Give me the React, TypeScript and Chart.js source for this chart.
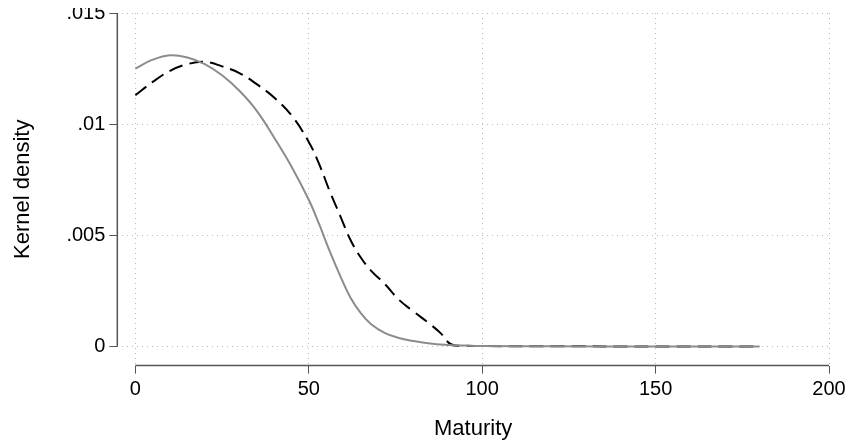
import React, { useEffect, useRef } from "react";
import Chart from "chart.js/auto";

const xTicks = [0, 50, 100, 150, 200];
const yTicks = [0, 0.005, 0.01, 0.015];
const yTickLabels = ["0", ".005", ".01", ".015"];
const solidX = [0, 5, 10, 15, 20, 25, 30, 35, 40, 45, 50, 53, 56, 59, 62, 65, 68, 72, 76, 80, 85, 90, 95, 100, 120, 150, 180];
const solidY = [0.0125, 0.0129, 0.0131, 0.013, 0.0127, 0.0122, 0.0115, 0.0106, 0.0094, 0.0081, 0.0066, 0.0055, 0.0043, 0.0032, 0.0022, 0.0015, 0.001, 0.0006, 0.00038, 0.00025, 0.00013, 0.00007, 0.00004, 0.00002, 0.00001, 0, 0];
const dashX = [0, 5, 10, 15, 20, 25, 30, 35, 40, 45, 50, 53, 56, 59, 62, 65, 68, 72, 76, 80, 85, 88, 91, 95, 100, 120, 150, 180];
const dashY = [0.0113, 0.0119, 0.0124, 0.0127, 0.0128, 0.0126, 0.0123, 0.0118, 0.0112, 0.0104, 0.0092, 0.0082, 0.007, 0.0059, 0.0048, 0.004, 0.0034, 0.0028, 0.0021, 0.0016, 0.001, 0.0006, 0.0001, 0.00004, 0.00002, 0.00001, 0, 0];

const axisLines = {
  id: "axisLines",
  afterDraw(chart: any) {
    const { ctx, scales } = chart;
    const x = scales.x, y = scales.y;
    ctx.save();
    ctx.strokeStyle = "#555";
    ctx.lineWidth = 1.5;
    ctx.beginPath();
    ctx.moveTo(x.left, y.getPixelForValue(0.015));
    ctx.lineTo(x.left, y.getPixelForValue(0));
    ctx.moveTo(x.getPixelForValue(0), y.bottom);
    ctx.lineTo(x.getPixelForValue(200), y.bottom);
    ctx.stroke();
    ctx.restore();
  },
};

export default function App() {
  const ref = useRef<HTMLCanvasElement>(null);
  useEffect(() => {
    const font = { family: "Liberation Sans", size: 20 };
    const tfont = { family: "Liberation Sans", size: 22 };
    const chart = new Chart(ref.current!, {
      type: "line",
      data: {
        datasets: [
          { data: solidX.map((x, i) => ({ x, y: solidY[i] })), borderColor: "#8c8c8c", borderWidth: 2, pointRadius: 0, tension: 0.4 },
          { data: dashX.map((x, i) => ({ x, y: dashY[i] })), borderColor: "#000", borderWidth: 2, borderDash: [14, 7], pointRadius: 0, tension: 0.4 },
        ],
      },
      options: {
        animation: false,
        responsive: false,
        layout: { padding: { top: 0, right: 26, left: 2, bottom: 1 } },
        plugins: { legend: { display: false }, tooltip: { enabled: false } },
        scales: {
          x: {
            type: "linear", min: -5.2, max: 200,
            afterBuildTicks: (s: any) => { s.ticks = xTicks.map((v) => ({ value: v })); },
            ticks: { font, color: "#000", padding: 4 },
            grid: { color: "#bbb", lineWidth: 1, tickLength: 8, tickColor: "#555" } as any,
            border: { display: false, dash: [1, 4] },
            title: { display: true, text: "Maturity", font: tfont, color: "#000", padding: { top: 10, bottom: 0 } },
          },
          y: {
            min: -0.00086, max: 0.015,
            afterBuildTicks: (s: any) => { s.ticks = yTicks.map((v) => ({ value: v })); },
            ticks: { font, color: "#000", padding: 4, callback: (v: any) => yTickLabels[yTicks.indexOf(Number(v))] ?? "" },
            grid: { color: "#bbb", tickLength: 8, tickColor: "#555" } as any,
            border: { display: false, dash: [1, 4] },
            title: { display: true, text: "Kernel density", font: tfont, color: "#000", padding: { top: 0, bottom: 26 } },
          },
        },
      },
      plugins: [axisLines],
    });
    return () => chart.destroy();
  }, []);
  return <canvas ref={ref} width={847} height={446} style={{ display: "block", marginTop: -11 }} />;
}
